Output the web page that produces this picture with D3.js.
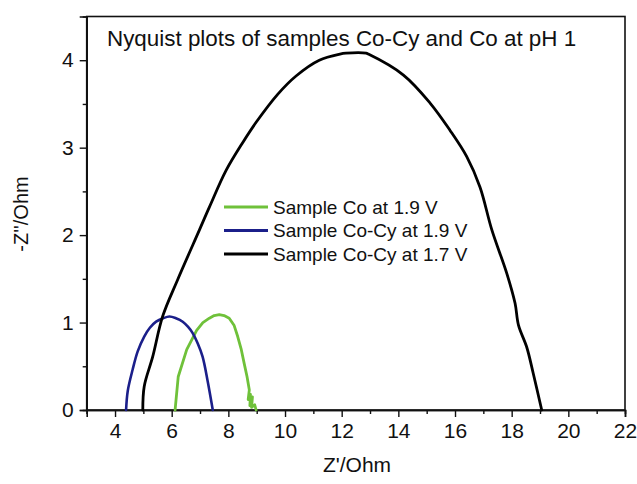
<!DOCTYPE html>
<html><head><meta charset="utf-8">
<script src="https://cdn.jsdelivr.net/npm/d3@7"></script>
<style>html,body{margin:0;padding:0;background:#fff;}svg{display:block;font-family:Arial,"Liberation Sans",sans-serif;}</style>
</head><body>
<svg id="c" width="637" height="484"></svg>
<script>
const title = "Nyquist plots of samples Co-Cy and Co at pH 1";
const xLabel = "Z'/Ohm";
const yLabel = "-Z''/Ohm";
const xTicks = [4, 6, 8, 10, 12, 14, 16, 18, 20, 22];
const yTicks = [0, 1, 2, 3, 4];
const seriesNames = ["Sample Co at 1.9 V", "Sample Co-Cy at 1.9 V", "Sample Co-Cy at 1.7 V"];
const seriesColors = ["#6fc13a", "#1b1f8a", "#000000"];

// Sample Co at 1.9 V  [Z', -Z'']
const coZre  = [6.12, 6.23, 6.53, 6.88, 7.10, 7.33, 7.50, 7.68, 7.85, 8.03, 8.20, 8.33, 8.45, 8.56, 8.66, 8.74, 8.70, 8.78, 8.76, 8.85, 8.82, 8.93, 8.98];
const coZim  = [0.00, 0.38, 0.69, 0.91, 1.00, 1.05, 1.08, 1.09, 1.08, 1.05, 0.97, 0.84, 0.70, 0.53, 0.38, 0.23, 0.12, 0.18, 0.05, 0.15, 0.03, 0.06, 0.00];
// Sample Co-Cy at 1.9 V
const cocy19Zre = [4.39, 4.45, 4.62, 4.80, 5.03, 5.23, 5.45, 5.70, 5.92, 6.15, 6.39, 6.58, 6.74, 6.92, 7.09, 7.27, 7.45];
const cocy19Zim = [0.00, 0.22, 0.46, 0.67, 0.84, 0.94, 1.01, 1.05, 1.07, 1.05, 1.01, 0.95, 0.88, 0.76, 0.61, 0.33, 0.00];
// Sample Co-Cy at 1.7 V
const cocy17Zre = [4.98, 5.03, 5.33, 5.68, 6.21, 6.98, 7.33, 7.92, 8.51, 8.98, 9.74, 10.39, 11.21, 11.94, 12.15, 12.86, 12.94, 14.18, 15.12, 15.82, 16.41, 16.88, 17.30, 17.83, 18.12, 18.24, 18.53, 18.76, 19.06];
const cocy17Zim = [0.00, 0.27, 0.61, 1.07, 1.49, 2.06, 2.32, 2.74, 3.06, 3.29, 3.61, 3.82, 4.00, 4.07, 4.08, 4.08, 4.07, 3.83, 3.51, 3.20, 2.90, 2.55, 2.06, 1.56, 1.22, 0.97, 0.72, 0.42, 0.00];

const series = [
  {name: seriesNames[0], color: seriesColors[0], xs: coZre, ys: coZim, w: 2.8, smooth: false},
  {name: seriesNames[1], color: seriesColors[1], xs: cocy19Zre, ys: cocy19Zim, w: 2.6, smooth: true},
  {name: seriesNames[2], color: seriesColors[2], xs: cocy17Zre, ys: cocy17Zim, w: 2.8, smooth: true}
];

const svg = d3.select("#c");
const L = 86.7, R = 625, T = 16.5, B = 410;
const x = d3.scaleLinear().domain([3, 22]).range([L, R]);
const y = d3.scaleLinear().domain([0, 4.5]).range([B, T]);

// frame
svg.append("rect").attr("x", L).attr("y", T).attr("width", R - L).attr("height", B - T)
  .attr("fill", "none").attr("stroke", "#111").attr("stroke-width", 1.6);

// axes
const xMinor = d3.range(3, 22.01, 1).filter(v => !xTicks.includes(v));
const yMinor = d3.range(0.5, 4.5, 1);
const gx = svg.append("g").attr("transform", `translate(0,${B})`);
gx.call(d3.axisBottom(x).tickValues(xTicks).tickSize(7).tickPadding(6).tickFormat(d3.format("d")));
gx.append("g").call(d3.axisBottom(x).tickValues(xMinor).tickSize(4).tickFormat(""));
const gy = svg.append("g").attr("transform", `translate(${L},0)`);
gy.call(d3.axisLeft(y).tickValues(yTicks).tickSize(7).tickPadding(6).tickFormat(d3.format("d")));
gy.append("g").call(d3.axisLeft(y).tickValues(yMinor).tickSize(4).tickFormat(""));
svg.selectAll(".domain").attr("stroke", "#111").attr("stroke-width", 1.6);
svg.selectAll(".tick line").attr("stroke", "#111").attr("stroke-width", 1.4);
svg.selectAll(".tick text").attr("font-size", 21).attr("fill", "#111")
  .attr("font-family", "Arial, 'Liberation Sans', sans-serif");

// curves
const lineLin = d3.line().x(d => x(d[0])).y(d => y(d[1]));
const lineSm = d3.line().x(d => x(d[0])).y(d => y(d[1])).curve(d3.curveCatmullRom.alpha(0.5));
series.forEach(s => {
  const pts = s.xs.map((v, i) => [v, s.ys[i]]);
  svg.append("path").datum(pts).attr("d", s.smooth ? lineSm : lineLin)
    .attr("fill", "none").attr("stroke", s.color).attr("stroke-width", s.w)
    .attr("stroke-linejoin", "round").attr("stroke-linecap", "round");
});

// legend
const lg = svg.append("g");
series.forEach((s, i) => {
  const yy = 207 + i * 23.5;
  lg.append("line").attr("x1", 224).attr("x2", 268).attr("y1", yy).attr("y2", yy)
    .attr("stroke", s.color).attr("stroke-width", 3);
  lg.append("text").attr("x", 273).attr("y", yy + 6.5).attr("font-size", 19).attr("fill", "#111").text(s.name);
});

// title
svg.append("text").attr("x", 107).attr("y", 46).attr("font-size", 22.4).attr("fill", "#111").text(title);
// axis labels
svg.append("text").attr("x", 357).attr("y", 472).attr("text-anchor", "middle")
  .attr("font-size", 21).attr("fill", "#111").text(xLabel);
svg.append("text").attr("transform", `translate(28,214) rotate(-90)`).attr("text-anchor", "middle")
  .attr("font-size", 20).attr("fill", "#111").text(yLabel);
</script>
</body></html>
